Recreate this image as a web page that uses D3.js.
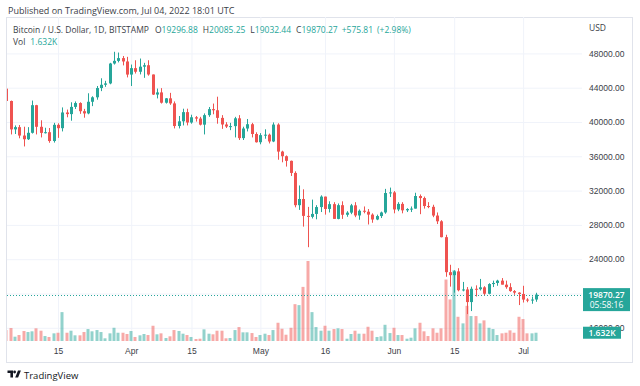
<!DOCTYPE html>
<html>
<head>
<meta charset="utf-8">
<script src="https://cdn.jsdelivr.net/npm/d3@7"></script>
<style>
  body { margin: 0; background: #fff; }
  svg { display: block; font-family: "Open Sans", sans-serif; }
</style>
</head>
<body>
<svg id="chart" width="640" height="386"></svg>
<script>
// BTC/USD daily candles, Bitstamp, 2022-03-03 .. 2022-07-04
const firstDay = "2022-03-03";
const lastDay = "2022-07-04";

const opens = [
  43890, 42450, 39140, 39400, 38420, 37990, 38740, 41960, 39440, 38730, 38810, 37780, 39670, 39280, 41110, 40920, 41760, 42210, 41260, 41000, 42360, 42880, 43960, 44340, 44500, 46820, 47130, 47450, 47060,
  45530, 46280, 45860, 46450, 46620, 45540, 43200, 43450, 42250, 42760, 42170, 39530, 40080, 41150, 39940, 40550, 40400, 39690, 40800, 41500, 41370, 40480, 39710, 39470, 39520, 40430, 38120, 39240, 39740, 38600,
  37640, 38470, 38520, 37730, 39700, 36550, 36010, 35470, 34060, 30300, 31020, 29050, 28940, 29280, 30080, 31300, 29860, 30420, 28700, 30300, 29180, 29430, 30280, 29100, 29650, 29540, 29200, 28630, 29030, 29450, 31720,
  31790, 29800, 30450, 29700, 29850, 29900, 31370, 31130, 30200, 30110, 29090, 28420, 26570, 22490, 22140, 22580, 20380, 20470, 19000, 20550, 20500, 20720, 19970, 21100, 21230, 21500, 21030, 20740, 20280, 20100,
  19940, 19290, 19240, 19296.88
];
const highs = [
  44100, 42500, 39600, 39650, 39450, 39400, 42500, 42000, 40200, 39330, 39300, 39900, 39850, 41700, 41450, 42300, 42400, 42300, 41530, 43350, 43000, 44200, 45100, 44800, 46900, 48190, 48100, 47700, 47600,
  46700, 47200, 47400, 46900, 47200, 45540, 43900, 43950, 42800, 43400, 42400, 40700, 41550, 41550, 40850, 40700, 40600, 41000, 41750, 42150, 42950, 40800, 39980, 39900, 40600, 40800, 39450, 40350, 39900, 38800,
  38700, 39150, 38650, 39950, 39850, 36650, 36100, 35500, 34250, 32600, 32150, 30100, 30950, 30300, 31450, 31300, 30750, 30650, 30500, 30750, 29600, 30450, 30650, 29800, 30150, 29850, 29350, 29200, 29550, 32200, 32350,
  31950, 30650, 30650, 29950, 30150, 31750, 31550, 31300, 30650, 30350, 29450, 28550, 26850, 23350, 22700, 22950, 21350, 20750, 20800, 20950, 21700, 20850, 21200, 21500, 21600, 21800, 21500, 21200, 20400, 20150,
  20900, 19450, 19650, 20085.25
];
const lows = [
  41850, 38550, 38600, 38100, 37150, 37900, 38650, 38550, 38200, 38660, 37580, 37600, 38150, 38900, 40550, 40150, 41520, 40950, 40500, 40900, 41850, 42600, 43600, 44100, 44400, 46700, 46950, 46600, 45200,
  44200, 45650, 45550, 45150, 45400, 43150, 42750, 42150, 42150, 42000, 39250, 39250, 39600, 39600, 39800, 40050, 39600, 38550, 40600, 40900, 39800, 39200, 39300, 39050, 38200, 37900, 37900, 38900, 38200, 37600,
  37400, 38050, 37500, 37650, 35600, 35300, 34800, 33700, 30050, 29750, 27800, 25400, 28750, 28650, 29500, 29200, 29450, 28700, 28650, 28700, 28950, 29250, 28900, 28600, 29350, 28050, 28250, 28550, 28800, 29300, 31250,
  29350, 29600, 29350, 29500, 29500, 29900, 29250, 29900, 29950, 28900, 28100, 26550, 21950, 20800, 20100, 20250, 20250, 17600, 17950, 19650, 20350, 19800, 19900, 20750, 20900, 21050, 20550, 20200, 19850, 18650,
  18950, 18980, 18800, 19032.44
];
const closes = [
  42450, 39140, 39400, 38420, 37990, 38740, 41960, 39440, 38730, 38810, 37780, 39670, 39280, 41110, 40920, 41760, 42210, 41260, 41000, 42360, 42880, 43960, 44340, 44500, 46820, 47130, 47450, 47060, 45530,
  46280, 45860, 46450, 46620, 45540, 43200, 43450, 42250, 42760, 42170, 39530, 40080, 41150, 39940, 40550, 40400, 39690, 40800, 41500, 41370, 40480, 39710, 39470, 39520, 40430, 38120, 39240, 39740, 38600, 37640,
  38470, 38520, 37730, 39700, 36550, 36010, 35470, 34060, 30300, 31020, 29050, 28940, 29280, 30080, 31300, 29860, 30420, 28700, 30300, 29180, 29430, 30280, 29100, 29650, 29540, 29200, 28630, 29030, 29450, 31720, 31790,
  29800, 30450, 29700, 29850, 29900, 31370, 31130, 30200, 30110, 29090, 28420, 26570, 22490, 22140, 22580, 20380, 20470, 19000, 20550, 20500, 20720, 19970, 21100, 21230, 21500, 21030, 20740, 20280, 20100, 19940,
  19290, 19240, 19294.46, 19870.27
];
// volume in BTC
const volumes = [
  2160, 2560, 850, 1180, 1970, 1770, 1910, 2500, 2030, 980, 790, 1510, 1630, 5700, 1630, 2030, 1120, 1120, 1770, 2360, 1910, 2160, 1770, 530, 1510, 2610, 1630, 1630, 1380,
  1970, 790, 1120, 1380, 1180, 3010, 1320, 1510, 590, 920, 2160, 1970, 1440, 1180, 790, 390, 450, 2300, 1440, 1320, 2030, 2030, 530, 590, 2160, 2750, 1710, 1710, 1570, 790,
  1180, 1440, 1180, 2160, 3600, 2420, 1240, 2610, 7270, 7080, 10680, 15790, 5700, 2750, 2030, 3010, 2030, 2360, 2500, 2360, 450, 1380, 2030, 1440, 1440, 2810, 2030, 790, 920, 3200, 1570,
  2610, 1180, 1180, 450, 650, 2500, 3600, 1910, 980, 2500, 1630, 2500, 12130, 8200, 13960, 4780, 3480, 6940, 4920, 4920, 3480, 4070, 2610, 2360, 1180, 1510, 1630, 2100, 1630, 4780,
  4330, 1510, 1510, 1632
];

const priceTicks = [16000, 20000, 24000, 28000, 32000, 36000, 40000, 44000, 48000];
const timeTicks = ["2022-03-15", "2022-04-01", "2022-04-15", "2022-05-01", "2022-05-16", "2022-06-01", "2022-06-15", "2022-07-01"];
const timeLabels = ["15", "Apr", "15", "May", "16", "Jun", "15", "Jul"];

const published = "Published on TradingView.com, Jul 04, 2022 18:01 UTC";
const symbolName = "Bitcoin / U.S. Dollar, 1D, BITSTAMP";
const change = 575.81;
const changePct = 2.98;
const countdown = "05:58:16";
const currency = "USD";

const up = "#26a69a";
const down = "#ef5350";
const upVol = "rgba(38,166,154,0.5)";
const downVol = "rgba(239,83,80,0.5)";
const textColor = "#3b3e47";
const gridColor = "#f0f3fa";

const parse = d3.utcParse("%Y-%m-%d");
const days = d3.utcDay.range(parse(firstDay), d3.utcDay.offset(parse(lastDay), 1));
const candles = days.map((d, i) => ({
  date: d, o: opens[i], h: highs[i], l: lows[i], c: closes[i], v: volumes[i]
}));
const last = candles[candles.length - 1];

const plot = { left: 7, right: 582, top: 17, bottom: 342 };

const x = d3.scaleUtc()
  .domain([parse(firstDay), parse(lastDay)])
  .range([6.3, 536]);

const y = d3.scaleLinear()
  .domain([20000, 48000])
  .range([293.5, 53.4]);

const vy = d3.scaleLinear()
  .domain([0, d3.max(volumes)])
  .range([341, 261]);

const svg = d3.select("#chart");
const fmt2 = d3.format(".2f");

svg.append("text")
  .attr("x", 8).attr("y", 13.5)
  .attr("font-size", 9).attr("fill", textColor)
  .text(published);

// frame
svg.append("rect")
  .attr("x", 6.5).attr("y", 17.5)
  .attr("width", 626).attr("height", 345)
  .attr("fill", "none").attr("stroke", "#e0e3eb");

// grid
svg.append("g")
  .attr("transform", `translate(${plot.right},0)`)
  .call(d3.axisLeft(y).tickValues(priceTicks).tickSize(plot.right - plot.left).tickFormat(""))
  .call(g => g.select(".domain").remove())
  .call(g => g.selectAll("line").attr("stroke", gridColor));

svg.append("g")
  .attr("transform", `translate(0,${plot.bottom})`)
  .call(d3.axisBottom(x).tickValues(timeTicks.map(parse)).tickSize(-(plot.bottom - plot.top)).tickFormat(""))
  .call(g => g.select(".domain").remove())
  .call(g => g.selectAll("line").attr("stroke", gridColor));

svg.append("defs").append("clipPath").attr("id", "plot-clip")
  .append("rect")
  .attr("x", plot.left).attr("y", plot.top)
  .attr("width", plot.right - plot.left).attr("height", plot.bottom - plot.top);

const pane = svg.append("g").attr("clip-path", "url(#plot-clip)");

// volume
pane.append("g").selectAll("rect")
  .data(candles)
  .join("rect")
  .attr("x", d => Math.round(x(d.date)) - 1.5)
  .attr("y", d => vy(d.v))
  .attr("width", 3)
  .attr("height", d => vy(0) - vy(d.v))
  .attr("fill", d => d.c >= d.o ? upVol : downVol);

// last price line
pane.append("line")
  .attr("x1", plot.left).attr("x2", plot.right)
  .attr("y1", Math.round(y(last.c)) + 0.5).attr("y2", Math.round(y(last.c)) + 0.5)
  .attr("stroke", up).attr("stroke-dasharray", "1,2");

// candles
const candle = pane.append("g").selectAll("g")
  .data(candles)
  .join("g")
  .attr("fill", d => d.c >= d.o ? up : down)
  .attr("stroke", d => d.c >= d.o ? up : down);

candle.append("line")
  .attr("x1", d => Math.round(x(d.date)) + 0.5)
  .attr("x2", d => Math.round(x(d.date)) + 0.5)
  .attr("y1", d => y(d.h))
  .attr("y2", d => y(d.l));

candle.append("rect")
  .attr("stroke", "none")
  .attr("x", d => Math.round(x(d.date)) - 1)
  .attr("y", d => y(Math.max(d.o, d.c)))
  .attr("width", 3)
  .attr("height", d => Math.max(1, Math.abs(y(d.o) - y(d.c))));

// price scale
svg.append("g")
  .attr("transform", `translate(${plot.right},0)`)
  .call(d3.axisRight(y).tickValues(priceTicks).tickSize(0).tickPadding(7).tickFormat(fmt2))
  .call(g => g.select(".domain").remove())
  .call(g => g.selectAll("text").attr("font-size", 8.5).attr("fill", textColor).attr("font-family", null));

svg.append("text")
  .attr("x", 589).attr("y", 31)
  .attr("font-size", 8.5).attr("fill", textColor)
  .text(currency);

// time scale
svg.append("g")
  .attr("transform", `translate(0,${plot.bottom})`)
  .call(d3.axisBottom(x).tickValues(timeTicks.map(parse)).tickSize(0).tickPadding(6)
    .tickFormat((d, i) => timeLabels[i]))
  .call(g => g.select(".domain").remove())
  .call(g => g.selectAll("text").attr("font-size", 8.5).attr("fill", textColor).attr("font-family", null));

// last price label
const py = y(last.c);
svg.append("rect")
  .attr("x", 583).attr("y", py - 6.5)
  .attr("width", 47).attr("height", 23)
  .attr("fill", up);
svg.append("text")
  .attr("x", 606.5).attr("y", py + 3.5)
  .attr("text-anchor", "middle")
  .attr("font-size", 8.5).attr("font-weight", 600).attr("fill", "#fff")
  .text(fmt2(last.c));
svg.append("text")
  .attr("x", 606.5).attr("y", py + 13)
  .attr("text-anchor", "middle")
  .attr("font-size", 8.5).attr("fill", "#fff")
  .text(countdown);

// volume label
const volText = d3.format(".4~s")(last.v).replace("k", "K");
const vly = vy(last.v);
svg.append("rect")
  .attr("x", 583).attr("y", vly - 6)
  .attr("width", 38).attr("height", 12)
  .attr("fill", up);
svg.append("text")
  .attr("x", 602).attr("y", vly + 3)
  .attr("text-anchor", "middle")
  .attr("font-size", 8.5).attr("font-weight", 600).attr("fill", "#fff")
  .text(volText);

// legend
const legend = svg.append("text")
  .attr("x", 13).attr("y", 32.5)
  .attr("font-size", 8.5).attr("fill", textColor);
legend.append("tspan").text(symbolName);
[["O", last.o], ["H", last.h], ["L", last.l], ["C", last.c]].forEach(([k, v], i) => {
  legend.append("tspan").attr("dx", i === 0 ? 6 : 5).text(k);
  legend.append("tspan").attr("fill", up).text(fmt2(v));
});
legend.append("tspan").attr("dx", 4).attr("fill", up).text("+" + fmt2(change));
legend.append("tspan").attr("dx", 4).attr("fill", up).text(`(+${fmt2(changePct)}%)`);

const volLegend = svg.append("text")
  .attr("x", 13).attr("y", 45)
  .attr("font-size", 8.5).attr("fill", textColor);
volLegend.append("tspan").text("Vol");
volLegend.append("tspan").attr("dx", 5).attr("fill", up).text(volText);

// TradingView mark
const logo = svg.append("g").attr("fill", "#131722");
logo.append("path").attr("d", "M7.5 370.5h5.5v7h-2.6v-4.4H7.5z");
logo.append("circle").attr("cx", 14.6).attr("cy", 372).attr("r", 1.4);
logo.append("path").attr("d", "M15.2 377.5l2.8-7h2.9l-2.8 7z");
svg.append("text")
  .attr("x", 24).attr("y", 379)
  .attr("font-size", 9.5).attr("fill", "#131722")
  .text("TradingView");
</script>
</body>
</html>
